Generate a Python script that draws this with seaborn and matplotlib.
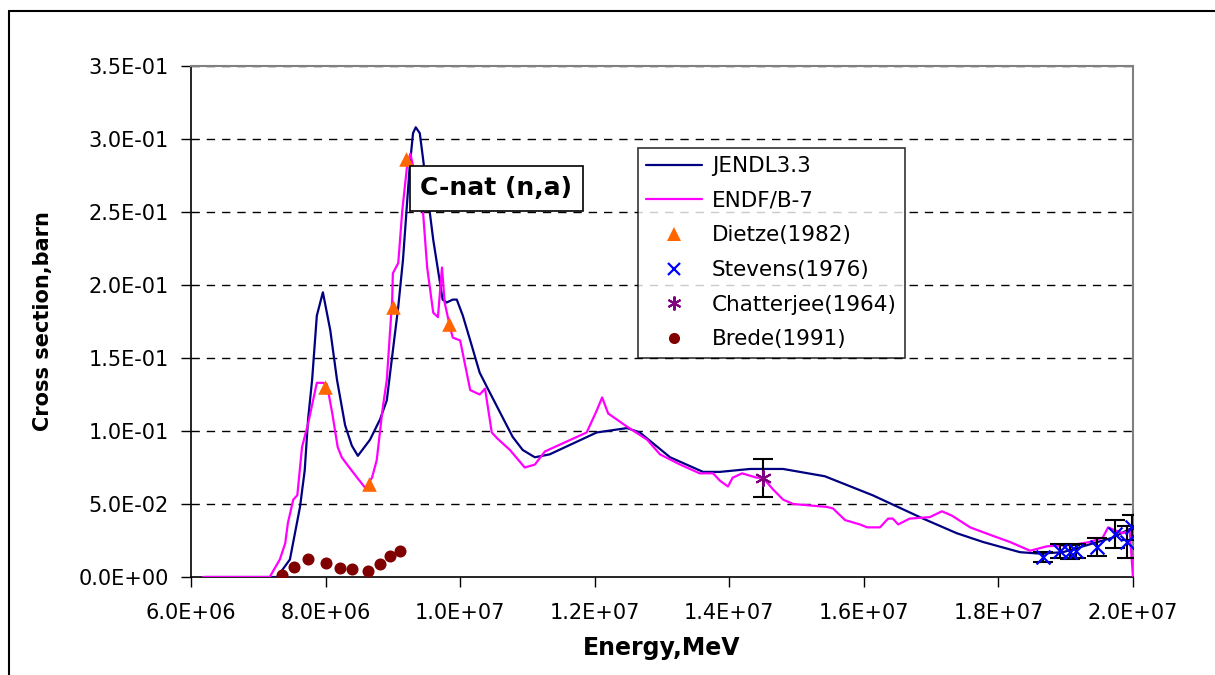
import numpy as np
import pandas as pd
import matplotlib
matplotlib.use("Agg")
import matplotlib.pyplot as plt
from matplotlib.lines import Line2D
from matplotlib.ticker import FuncFormatter, MultipleLocator
import seaborn as sns

# ---- evaluated cross sections (energy in eV, cross section in barn) ----
jendl_e = [6.21e6, 7.28e6, 7.47e6, 7.62e6, 7.69e6, 7.74e6, 7.80e6, 7.87e6, 7.96e6,
           8.07e6, 8.17e6, 8.29e6, 8.39e6, 8.48e6, 8.66e6, 8.81e6, 8.91e6, 8.96e6,
           9.08e6, 9.15e6, 9.25e6, 9.30e6, 9.34e6, 9.40e6, 9.45e6, 9.60e6, 9.74e6,
           9.80e6, 9.89e6, 9.95e6, 10.04e6, 10.15e6, 10.29e6, 10.40e6, 10.78e6,
           10.93e6, 11.11e6, 11.33e6, 12.03e6, 12.48e6, 12.67e6, 13.12e6, 13.61e6,
           13.86e6, 14.31e6, 14.80e6, 15.42e6, 16.13e6, 16.88e6, 17.38e6, 17.77e6,
           18.32e6, 18.62e6, 18.96e6, 19.70e6, 20.0e6]
jendl_xs = [0.0, 0.0, 0.012, 0.048, 0.073, 0.108, 0.135, 0.179, 0.195,
            0.169, 0.135, 0.104, 0.090, 0.083, 0.094, 0.108, 0.121, 0.140,
            0.185, 0.217, 0.281, 0.304, 0.308, 0.304, 0.286, 0.231, 0.190,
            0.188, 0.190, 0.190, 0.179, 0.162, 0.140, 0.130, 0.096,
            0.087, 0.082, 0.084, 0.099, 0.102, 0.099, 0.082, 0.072,
            0.072, 0.074, 0.074, 0.069, 0.056, 0.040, 0.030, 0.024,
            0.017, 0.016, 0.017, 0.027, 0.034]

endf_e = [6.18e6, 7.17e6, 7.32e6, 7.40e6, 7.44e6, 7.52e6, 7.58e6, 7.65e6, 7.74e6,
          7.87e6, 7.96e6, 8.02e6, 8.10e6, 8.18e6, 8.24e6, 8.32e6, 8.47e6, 8.59e6,
          8.69e6, 8.76e6, 8.85e6, 8.91e6, 8.99e6, 9.00e6, 9.08e6, 9.14e6, 9.21e6,
          9.26e6, 9.45e6, 9.51e6, 9.60e6, 9.67e6, 9.73e6, 9.77e6, 9.85e6, 9.89e6,
          10.00e6, 10.15e6, 10.29e6, 10.37e6, 10.47e6, 10.55e6, 10.74e6, 10.96e6,
          11.11e6, 11.26e6, 11.88e6, 12.03e6, 12.11e6, 12.20e6, 12.48e6, 12.78e6,
          12.97e6, 13.27e6, 13.56e6, 13.76e6, 13.86e6, 13.98e6, 14.05e6, 14.19e6,
          14.41e6, 14.50e6, 14.65e6, 14.80e6, 14.95e6, 15.45e6, 15.54e6, 15.72e6,
          15.94e6, 16.05e6, 16.24e6, 16.36e6, 16.43e6, 16.51e6, 16.68e6, 16.98e6,
          17.16e6, 17.31e6, 17.58e6, 17.87e6, 18.17e6, 18.47e6, 18.72e6, 19.11e6,
          19.36e6, 19.55e6, 19.63e6, 19.73e6, 19.85e6, 19.95e6, 20.0e6]
endf_xs = [0.0, 0.0, 0.012, 0.023, 0.037, 0.053, 0.056, 0.089, 0.105,
           0.133, 0.133, 0.132, 0.112, 0.089, 0.082, 0.077, 0.068, 0.061,
           0.068, 0.080, 0.116, 0.135, 0.190, 0.208, 0.215, 0.251, 0.281,
           0.290, 0.249, 0.212, 0.181, 0.178, 0.212, 0.188, 0.171, 0.164,
           0.162, 0.128, 0.125, 0.129, 0.099, 0.095, 0.087, 0.075,
           0.077, 0.086, 0.099, 0.114, 0.123, 0.112, 0.103, 0.094,
           0.084, 0.077, 0.071, 0.071, 0.066, 0.062, 0.068, 0.071,
           0.068, 0.068, 0.060, 0.053, 0.050, 0.048, 0.047, 0.039,
           0.036, 0.034, 0.034, 0.040, 0.040, 0.036, 0.040, 0.041,
           0.045, 0.042, 0.034, 0.029, 0.024, 0.018, 0.021, 0.022,
           0.024, 0.027, 0.034, 0.032, 0.030, 0.032, 0.0]

# ---- measurements ----
dietze_e = [7.99e6, 8.65e6, 9.00e6, 9.20e6, 9.83e6]
dietze_xs = [0.130, 0.064, 0.185, 0.286, 0.173]

stevens_e = [18.66e6, 18.91e6, 19.06e6, 19.16e6, 19.46e6, 19.73e6, 19.91e6, 19.99e6]
stevens_xs = [0.0137, 0.0178, 0.0171, 0.0178, 0.0205, 0.0295, 0.0240, 0.0340]
stevens_err = [0.0034, 0.0045, 0.0045, 0.0050, 0.0060, 0.0097, 0.0110, 0.0085]

chatterjee_e = [14.5e6]
chatterjee_xs = [0.068]
chatterjee_err = [0.013]

brede_e = [7.35e6, 7.53e6, 7.74e6, 8.01e6, 8.21e6, 8.39e6, 8.63e6, 8.81e6, 8.96e6, 9.11e6]
brede_xs = [0.0014, 0.0068, 0.0123, 0.0096, 0.0062, 0.0055, 0.0041, 0.0089, 0.0144, 0.0178]

sns.set_theme(style="white")
plt.rcParams["font.family"] = ["DejaVu Sans"]
plt.rcParams["text.color"] = "black"
plt.rcParams["axes.labelcolor"] = "black"
plt.rcParams["xtick.color"] = "black"
plt.rcParams["ytick.color"] = "black"

W, H = 1215, 675
fig = plt.figure(figsize=(W / 100, H / 100), dpi=100)
ax = fig.add_axes([191 / W, 1 - 577 / H, (1133 - 191) / W, (577 - 66) / H])

jendl = pd.DataFrame({"E": jendl_e, "xs": jendl_xs})
endf = pd.DataFrame({"E": endf_e, "xs": endf_xs})

sns.lineplot(data=jendl, x="E", y="xs", ax=ax, color="#000080", lw=1.6,
             sort=False, estimator=None, zorder=3)
sns.lineplot(data=endf, x="E", y="xs", ax=ax, color="#FF00FF", lw=1.6,
             sort=False, estimator=None, zorder=3)

# error bars
ax.errorbar(stevens_e, stevens_xs, yerr=stevens_err, fmt="none", ecolor="black",
            elinewidth=1.5, capsize=7, capthick=1.5, zorder=4)
ax.errorbar(chatterjee_e, chatterjee_xs, yerr=chatterjee_err, fmt="none",
            ecolor="black", elinewidth=1.5, capsize=7, capthick=1.5, zorder=4)

sns.scatterplot(x=dietze_e, y=dietze_xs, ax=ax, marker="^", color="#FF6600",
                s=110, linewidth=0, zorder=5)
sns.scatterplot(x=stevens_e, y=stevens_xs, ax=ax, marker="x", color="#0000FF",
                s=100, linewidth=1.6, zorder=5)
sns.scatterplot(x=chatterjee_e, y=chatterjee_xs, ax=ax, marker=(6, 2, 0),
                color="#800080", s=120, linewidth=1.5, zorder=5)
sns.scatterplot(x=brede_e, y=brede_xs, ax=ax, marker="o", color="#800000",
                s=75, linewidth=0, zorder=5)

ax.set_xlim(6e6, 2e7)
ax.set_ylim(0, 0.35)
ax.xaxis.set_major_locator(MultipleLocator(2e6))
ax.yaxis.set_major_locator(MultipleLocator(0.05))
fmt = FuncFormatter(lambda v, p: "{:.1E}".format(v))
ax.xaxis.set_major_formatter(fmt)
ax.yaxis.set_major_formatter(fmt)

ax.grid(False)
for yv in np.arange(0.05, 0.351, 0.05):
    ax.axhline(yv, color="black", lw=1.0, ls=(0, (6, 5)), zorder=1)

for side in ["left", "bottom"]:
    ax.spines[side].set_color("black")
    ax.spines[side].set_linewidth(1.2)
for side in ["top", "right"]:
    ax.spines[side].set_color("#808080")
    ax.spines[side].set_linewidth(1.5)

ax.tick_params(axis="both", which="major", direction="out", length=7, width=1,
               color="black", labelsize=15, labelcolor="black",
               bottom=True, left=True)
ax.tick_params(axis="x", pad=12)
ax.tick_params(axis="y", pad=9)

ax.set_xlabel("Energy,MeV", fontsize=17, fontweight="bold", color="black")
ax.set_ylabel("Cross section,barn", fontsize=15, fontweight="bold", color="black")
ax.xaxis.set_label_coords((662 - 191) / (1133 - 191), -(636 - 577) / (577 - 66))
ax.yaxis.set_label_coords(-(191 - 53) / (1133 - 191), 0.5)

handles = [
    Line2D([], [], color="#000080", lw=1.6),
    Line2D([], [], color="#FF00FF", lw=1.6),
    Line2D([], [], ls="none", marker="^", color="#FF6600", ms=10, mew=0),
    Line2D([], [], ls="none", marker="x", color="#0000FF", ms=9, mew=1.6),
    Line2D([], [], ls="none", marker=(6, 2, 0), color="#800080", ms=10, mew=1.5),
    Line2D([], [], ls="none", marker="o", color="#800000", ms=8, mew=0),
]
labels = ["JENDL3.3", "ENDF/B-7", "Dietze(1982)", "Stevens(1976)",
          "Chatterjee(1964)", "Brede(1991)"]
leg = ax.legend(handles, labels, loc="upper left",
                bbox_to_anchor=((638 - 191) / 942, (577 - 148) / 511),
                fontsize=15.5, frameon=True, fancybox=False, shadow=False,
                handlelength=2.6, handletextpad=0.45, labelspacing=0.68,
                borderpad=0.38, borderaxespad=0)
leg.get_frame().set_edgecolor("black")
leg.get_frame().set_linewidth(1.2)
leg.set_zorder(6)
for t in leg.get_texts():
    t.set_color("black")

fig.text(496 / W, 1 - 188 / H, "C-nat (n,a)", fontsize=18, fontweight="bold",
         ha="center", va="center", color="black",
         bbox=dict(boxstyle="square,pad=0.42", fc="white", ec="black", lw=1.2),
         zorder=7)

# outer chart frame
fig.add_artist(Line2D([9 / W, 1.0], [1 - 11 / H, 1 - 11 / H], color="black", lw=1.5))
fig.add_artist(Line2D([9 / W, 9 / W], [0.0, 1 - 11 / H], color="black", lw=1.5))

fig.savefig("out.png", dpi=100)
